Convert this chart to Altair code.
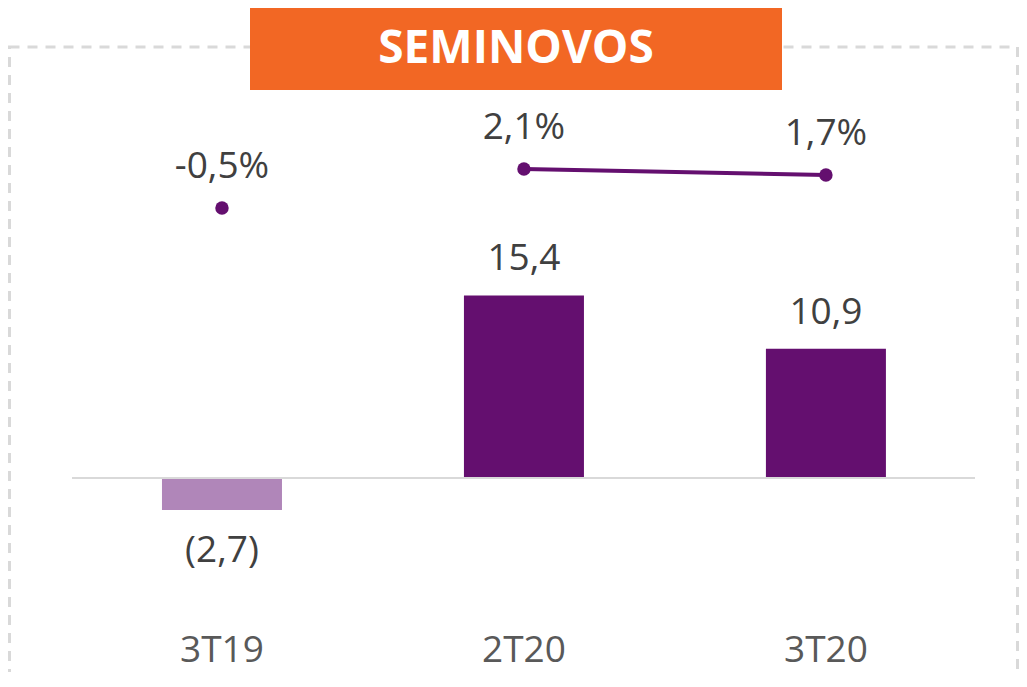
import altair as alt
import pandas as pd

# ---- data ----
categories = ["3T19", "2T20", "3T20"]
result_values = [-2.7, 15.4, 10.9]          # bars
margin_values = [-0.5, 2.1, 1.7]            # line (%)
bar_colors = ["#b086b9", "#640f6f", "#640f6f"]
line_groups = ["solo", "linked", "linked"]
title_text = "SEMINOVOS"


def fmt_num(v):
    s = f"{abs(v):.1f}".replace(".", ",")
    return f"({s})" if v < 0 else s


def fmt_pct(v):
    return f"{v:.1f}".replace(".", ",") + "%"


df = pd.DataFrame({
    "cat": categories,
    "value": result_values,
    "margin": margin_values,
    "color": bar_colors,
    "group": line_groups,
    "value_label": [fmt_num(v) for v in result_values],
    "margin_label": [fmt_pct(v) for v in margin_values],
    "zero": [0, 0, 0],
})

FONT = "Open Sans"
TXT = "#404040"
PURPLE = "#640f6f"

x_enc = alt.X(
    "cat:N",
    sort=categories,
    scale=alt.Scale(paddingInner=0.6026, paddingOuter=0.4753, align=0.5364),
    axis=alt.Axis(title=None, ticks=False, domain=False, labelAngle=0,
                  labelFont=FONT, labelFontSize=37, labelColor="#595959",
                  labelPadding=42, labelBaseline="middle"),
)

BAR_DOMAIN = [-10.97, 39.66]
LINE_DOMAIN = [-27.17, 12.83]


def ybar(field="value"):
    return alt.Y(f"{field}:Q", scale=alt.Scale(domain=BAR_DOMAIN, nice=False, zero=False), axis=None)


def yline():
    return alt.Y("margin:Q", scale=alt.Scale(domain=LINE_DOMAIN, nice=False, zero=False), axis=None)


base = alt.Chart(df)
first = base.transform_filter(alt.datum.cat == categories[0])

border = first.mark_rect(
    fill="transparent", stroke="#d9d9d9", strokeWidth=3, strokeDash=[10, 8]
).encode(x=alt.value(1.5), x2=alt.value(1009.5), y=alt.value(39), y2=alt.value(760))

title_box = first.mark_rect(color="#f26724").encode(
    x=alt.value(242), x2=alt.value(774), y=alt.value(0), y2=alt.value(82)
)
title_lbl = first.mark_text(
    text=title_text, font=FONT, fontWeight="bold", fontSize=46, color="white",
    align="center", baseline="middle"
).encode(x=alt.value(508), y=alt.value(41))

zero_rule = first.mark_rule(color="#d9d9d9", strokeWidth=2).encode(
    x=alt.value(64), x2=alt.value(967), y=ybar("zero")
)

bars = base.mark_bar().encode(
    x=x_enc, y=ybar(), color=alt.Color("color:N", scale=None)
)
lab_pos = base.transform_filter(alt.datum.value >= 0).mark_text(
    font=FONT, fontSize=37, color=TXT, baseline="middle", dy=-36
).encode(x=x_enc, y=ybar(), text="value_label:N")
lab_neg = base.transform_filter(alt.datum.value < 0).mark_text(
    font=FONT, fontSize=37, color=TXT, baseline="middle", dy=41
).encode(x=x_enc, y=ybar(), text="value_label:N")

line = base.transform_filter(alt.datum.group == "linked").mark_line(
    color=PURPLE, strokeWidth=4
).encode(x=x_enc, y=yline())
pts = base.mark_point(filled=True, color=PURPLE, size=180, opacity=1).encode(x=x_enc, y=yline())
pct = base.mark_text(
    font=FONT, fontSize=37, color=TXT, baseline="middle", dy=-41
).encode(x=x_enc, y=yline(), text="margin_label:N")

chart = alt.layer(
    border, title_box, title_lbl, bars, zero_rule, lab_pos, lab_neg, line, pts, pct
).resolve_scale(y="independent").properties(
    width=1011, height=600,
    autosize=alt.AutoSizeParams(type="none"),
    padding={"left": 0, "top": 0, "right": 0, "bottom": 64},
).configure_view(stroke=None)

chart.save("out.html", embed_options={"renderer": "svg", "actions": False})
